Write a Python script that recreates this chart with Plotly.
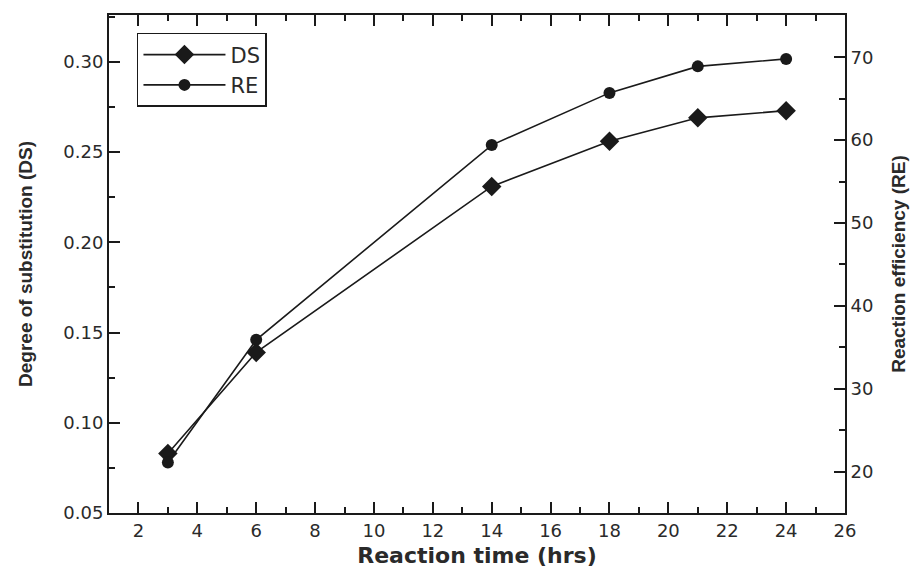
import plotly.graph_objects as go

time_hrs = [3, 6, 14, 18, 21, 24]
ds_values = [0.083, 0.139, 0.231, 0.256, 0.269, 0.273]
re_values = [21.1, 35.9, 59.4, 65.7, 68.9, 69.8]

x_ticks = [2, 4, 6, 8, 10, 12, 14, 16, 18, 20, 22, 24, 26]
ds_ticks = [0.05, 0.10, 0.15, 0.20, 0.25, 0.30]
re_ticks = [20, 30, 40, 50, 60, 70]

tick_family = "DejaVu Sans, Arial, sans-serif"
title_family = "Liberation Sans, Arial, sans-serif"
ink = "#1a1a1a"
text_col = "#2a2a2a"
tick_font = dict(family=tick_family, size=18, color=text_col)
title_font = dict(family=title_family, size=19, color=text_col)

fig = go.Figure()
fig.add_trace(go.Scatter(
    x=time_hrs, y=ds_values, name="DS", mode="lines+markers",
    line=dict(color=ink, width=1.6),
    marker=dict(symbol="diamond", size=15, color=ink),
))
fig.add_trace(go.Scatter(
    x=time_hrs, y=re_values, name="RE", mode="lines+markers", yaxis="y2",
    line=dict(color=ink, width=1.6),
    marker=dict(symbol="circle", size=12, color=ink),
))

minor_common = dict(ticks="inside", ticklen=6, tickwidth=2, tickcolor=ink, showgrid=False)

# page body has an 8px margin, so the figure is shifted by 8px right and down
fig.update_layout(
    width=912, height=573,
    margin=dict(l=101, r=75, t=7, b=68),
    paper_bgcolor="white", plot_bgcolor="white",
    showlegend=True,
    legend=dict(
        x=0.038, y=0.964, xanchor="left", yanchor="top",
        bordercolor=ink, borderwidth=1.5, bgcolor="white",
        font=dict(family=tick_family, size=21, color=text_col),
        tracegroupgap=0, itemwidth=82,
    ),
    xaxis=dict(
        range=[1, 26], tickvals=x_ticks, ticks="inside", ticklen=11, tickwidth=2,
        tickcolor=ink, showline=True, linecolor=ink, linewidth=2,
        mirror="ticks", showgrid=False, zeroline=False, tickfont=tick_font,
        automargin=False,
        minor=dict(dtick=1, **minor_common),
        title=dict(text="<b>Reaction time (hrs)</b>",
                   font=dict(family=tick_family, size=22, color=text_col), standoff=8),
    ),
    yaxis=dict(
        range=[0.05, 0.326], tickvals=ds_ticks, tickformat=".2f",
        ticks="inside", ticklen=11, tickwidth=2, tickcolor=ink,
        showline=True, linecolor=ink, linewidth=2, showgrid=False, zeroline=False,
        tickfont=tick_font, automargin=False,
        minor=dict(dtick=0.025, **minor_common),
        title=dict(text="<b>Degree of substitution (DS)</b>", font=title_font, standoff=26),
    ),
    yaxis2=dict(
        range=[15, 75.1], tickvals=re_ticks, overlaying="y", side="right",
        ticks="inside", ticklen=11, tickwidth=2, tickcolor=ink,
        showline=True, linecolor=ink, linewidth=2, showgrid=False, zeroline=False,
        tickfont=tick_font, automargin=False,
        minor=dict(dtick=5, **minor_common),
        title=dict(text="<b>Reaction efficiency (RE)</b>", font=title_font, standoff=19),
    ),
)

fig.write_html("out.html")
